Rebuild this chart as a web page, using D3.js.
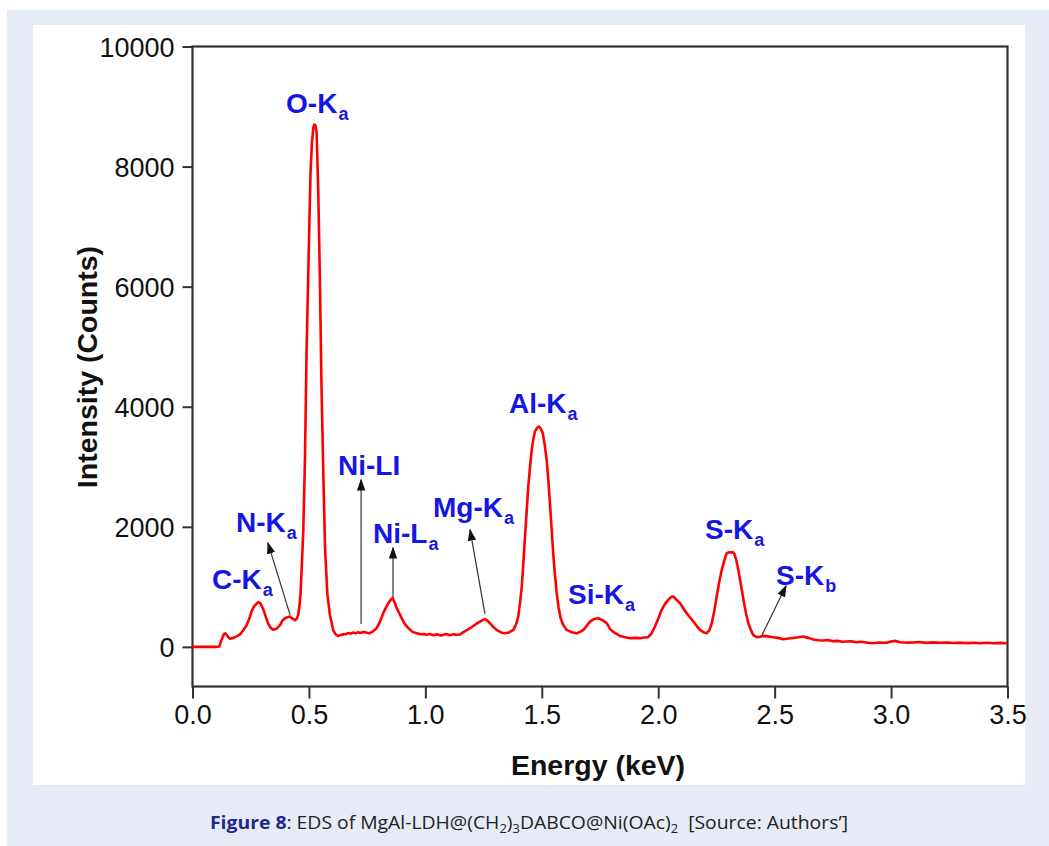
<!DOCTYPE html>
<html>
<head>
<meta charset="utf-8" />
<title>EDS spectrum</title>
<script src="https://d3js.org/d3.v7.min.js"></script>
<style>
    body { margin: 0; background: #fff; }
    .tick text { font-family: "Liberation Sans", Arial, sans-serif; font-size: 27px; fill: #111; }
    .tick line { stroke: #333; stroke-width: 2; }
    .title { font-family: "Liberation Sans", Arial, sans-serif; font-size: 28.5px; font-weight: bold; fill: #111; }
    .peak { font-family: "Liberation Sans", Arial, sans-serif; font-size: 28px; font-weight: bold; fill: #1515e6; }
    .caption { font-family: "Open Sans", "Noto Sans", sans-serif; font-size: 18px; fill: #222; }
</style>
</head>
<body>
<div id="chart"></div>
<script>
// spectrum (keV, counts)
var energy = [0.00,0.05,0.10,0.115,0.125,0.135,0.142,0.150,0.160,0.175,0.190,0.203,0.215,0.232,0.245,0.254,0.265,0.282,0.292,0.304,
    0.315,0.325,0.335,0.347,0.360,0.375,0.387,0.397,0.408,0.418,0.430,0.440,0.448,0.454,0.460,0.464,0.470,0.476,0.483,0.490,
    0.500,0.507,0.513,0.519,0.524,0.528,0.533,0.540,0.547,0.554,0.562,0.569,0.579,0.590,0.605,0.615,0.626,0.637,0.648,0.660,
    0.670,0.680,0.690,0.700,0.710,0.720,0.735,0.750,0.762,0.775,0.791,0.805,0.819,0.830,0.841,0.852,0.860,0.868,0.877,0.888,
    0.898,0.912,0.927,0.945,0.963,0.980,0.995,1.006,1.020,1.035,1.050,1.065,1.077,1.090,1.105,1.120,1.135,1.149,1.165,1.180,
    1.192,1.210,1.225,1.235,1.248,1.256,1.265,1.278,1.292,1.306,1.325,1.342,1.360,1.378,1.390,1.399,1.407,1.414,1.421,1.428,
    1.435,1.442,1.450,1.457,1.464,1.471,1.480,1.487,1.495,1.504,1.512,1.521,1.528,1.535,1.542,1.549,1.557,1.564,1.572,1.581,
    1.593,1.607,1.628,1.650,1.665,1.679,1.693,1.707,1.725,1.743,1.760,1.779,1.793,1.810,1.836,1.858,1.879,1.900,1.920,1.940,
    1.957,1.972,1.986,2.000,2.015,2.030,2.043,2.055,2.065,2.075,2.085,2.094,2.108,2.122,2.137,2.151,2.165,2.179,2.194,2.208,
    2.220,2.230,2.241,2.251,2.262,2.273,2.284,2.294,2.304,2.313,2.320,2.327,2.335,2.344,2.355,2.366,2.377,2.387,2.398,2.408,
    2.423,2.437,2.451,2.470,2.494,2.515,2.537,2.560,2.595,2.622,2.645,2.670,2.690,2.709,2.730,2.750,2.770,2.790,2.809,2.830,
    2.850,2.870,2.900,2.923,2.950,2.980,3.000,3.017,3.040,3.070,3.095,3.120,3.150,3.180,3.210,3.239,3.270,3.300,3.330,3.360,
    3.382,3.410,3.440,3.470,3.497];
var counts = [0,0,0,5,120,215,225,180,135,150,175,205,260,357,480,595,680,745,720,625,
    500,387,320,285,300,357,440,476,495,505,470,446,470,535,700,892,1400,1963,3152,4937,
    6721,7911,8400,8654,8700,8680,8565,7614,6126,4342,2855,1665,892,535,268,210,178,200,208,215,
    230,220,240,225,245,230,248,235,228,260,311,420,561,650,728,790,811,740,644,560,
    478,380,311,250,228,210,215,200,215,195,210,190,200,215,195,210,200,205,250,285,
    311,360,400,422,450,461,440,394,330,283,240,228,240,283,380,505,750,1005,1400,1839,
    2250,2672,3020,3283,3470,3589,3650,3672,3640,3561,3380,3117,2780,2394,1980,1561,1180,894,660,478,
    360,283,245,228,250,283,350,422,465,478,445,394,300,240,183,160,144,150,145,155,
    161,230,339,470,617,720,783,830,839,800,760,728,640,561,490,422,350,283,245,228,
    280,394,600,839,1080,1283,1440,1561,1575,1572,1580,1550,1450,1283,1040,783,560,394,280,200,
    161,170,183,175,161,150,128,140,155,172,150,120,110,106,115,95,100,85,89,95,
    78,84,70,61,72,68,90,100,78,70,72,80,66,75,68,72,64,70,62,68,
    61,70,60,66,61];

var xTicks = [0, 0.5, 1.0, 1.5, 2.0, 2.5, 3.0, 3.5];
var yTicks = [0, 2000, 4000, 6000, 8000, 10000];

// peak labels: text, subscript, anchor (keV, counts)
var peakNames = ["O-K", "C-K", "N-K", "Ni-LI", "Ni-L", "Mg-K", "Al-K", "Si-K", "S-K", "S-K"];
var peakSubs  = ["a", "a", "a", "", "a", "a", "a", "a", "a", "b"];
var peakE     = [0.402, 0.084, 0.187, 0.625, 0.775, 1.033, 1.359, 1.613, 2.201, 2.506];
var peakC     = [8900, 967, 1917, 2867, 1733, 2167, 3900, 717, 1800, 1033];

// arrows: tail (keV, counts) -> head (keV, counts)
var arrowFromE = [0.419, 0.724, 0.861, 1.256, 2.446];
var arrowFromC = [533, 383, 817, 550, 200];
var arrowToE   = [0.324, 0.724, 0.861, 1.192, 2.549];
var arrowToC   = [1733, 2783, 1650, 1950, 1017];

var W = 1049, H = 846;
var svg = d3.select("#chart").append("svg")
    .attr("width", W)
    .attr("height", H);

// page panels
svg.append("rect").attr("x", 7).attr("y", 10).attr("width", W - 7).attr("height", H - 10).attr("fill", "#e7ebf6");
svg.append("rect").attr("x", 33).attr("y", 25).attr("width", 992).attr("height", 760).attr("fill", "#fff");

var x = d3.scaleLinear().domain([0, 3.5]).range([192.5, 1007.5]);
var y = d3.scaleLinear().domain([-660, 10000]).range([686.5, 46.5]);

var defs = svg.append("defs");
defs.append("marker")
    .attr("id", "head")
    .attr("viewBox", "0 0 10 10")
    .attr("refX", 9).attr("refY", 5)
    .attr("markerWidth", 12).attr("markerHeight", 12)
    .attr("markerUnits", "userSpaceOnUse")
    .attr("orient", "auto")
    .append("path")
    .attr("d", "M0,1.5 L10,5 L0,8.5 Z")
    .attr("fill", "#111");

// axes
var gx = svg.append("g")
    .attr("transform", "translate(0," + y(-660) + ")")
    .call(d3.axisBottom(x).tickValues(xTicks).tickFormat(d3.format(".1f")).tickSize(12).tickPadding(6));
var gy = svg.append("g")
    .attr("transform", "translate(" + x(0) + ",0)")
    .call(d3.axisLeft(y).tickValues(yTicks).tickFormat(d3.format("d")).tickSize(10).tickPadding(8));
gx.select(".domain").remove();
gy.select(".domain").remove();
gy.selectAll(".tick text").attr("dy", "0.36em");

svg.append("rect")
    .attr("x", x(0)).attr("y", y(10000))
    .attr("width", x(3.5) - x(0)).attr("height", y(-660) - y(10000))
    .attr("fill", "none").attr("stroke", "#333").attr("stroke-width", 2.2);

// spectrum
var pts = energy.map(function(e, i) { return [e, counts[i]]; });
svg.append("path")
    .datum(pts)
    .attr("fill", "none")
    .attr("stroke", "#ff0000")
    .attr("stroke-width", 2.6)
    .attr("stroke-linejoin", "round")
    .attr("d", d3.line().x(function(d) { return x(d[0]); }).y(function(d) { return y(d[1]); }));

// arrows
arrowFromE.forEach(function(e, i) {
    svg.append("line")
        .attr("x1", x(e)).attr("y1", y(arrowFromC[i]))
        .attr("x2", x(arrowToE[i])).attr("y2", y(arrowToC[i]))
        .attr("stroke", "#333").attr("stroke-width", 1.2)
        .attr("marker-end", "url(#head)");
});

// peak labels
peakNames.forEach(function(name, i) {
    var t = svg.append("text").attr("class", "peak")
        .attr("x", x(peakE[i])).attr("y", y(peakC[i]));
    t.append("tspan").text(name);
    if (peakSubs[i]) {
        t.append("tspan").attr("font-size", "18px").attr("dx", 1).attr("dy", 7).text(peakSubs[i]);
    }
});

// axis titles
svg.append("text").attr("class", "title")
    .attr("text-anchor", "middle")
    .attr("transform", "translate(97,367) rotate(-90)")
    .text("Intensity (Counts)");
svg.append("text").attr("class", "title")
    .attr("text-anchor", "middle")
    .attr("x", 598).attr("y", 775)
    .text("Energy (keV)");

// caption
var cap = svg.append("text").attr("class", "caption")
    .attr("x", 210).attr("y", 829)
    .attr("textLength", 638).attr("lengthAdjust", "spacingAndGlyphs");
cap.append("tspan").attr("font-weight", "bold").attr("fill", "#1d2a8c").text("Figure 8");
cap.append("tspan").text(": EDS of MgAl-LDH@(CH");
cap.append("tspan").attr("font-size", "12px").attr("dy", 4).text("2");
cap.append("tspan").attr("dy", -4).text(")");
cap.append("tspan").attr("font-size", "12px").attr("dy", 4).text("3");
cap.append("tspan").attr("dy", -4).text("DABCO@Ni(OAc)");
cap.append("tspan").attr("font-size", "12px").attr("dy", 4).text("2");
cap.append("tspan").attr("dy", -4).text("\u00a0\u00a0[Source: Authors\u2019]");
</script>
</body>
</html>
